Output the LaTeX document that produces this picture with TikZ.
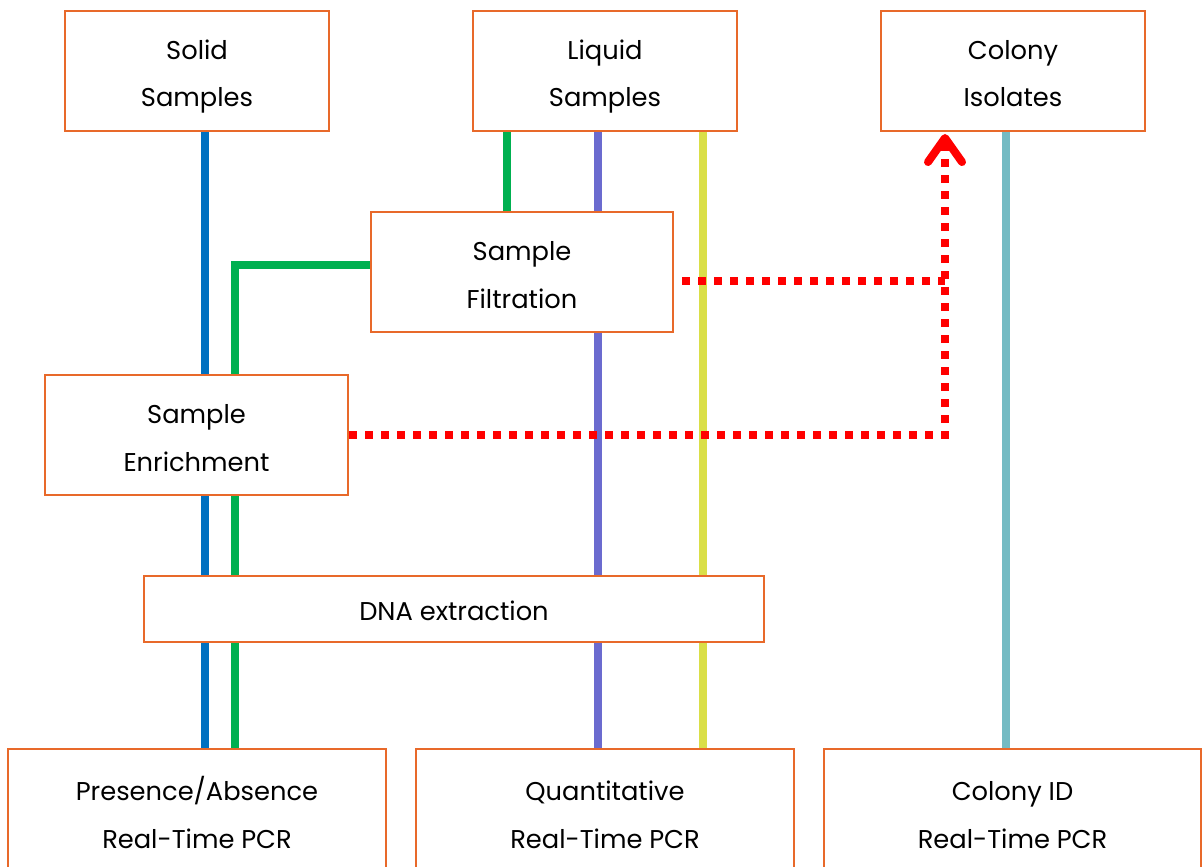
\documentclass[tikz,border=0pt]{standalone}
\usepackage{fontspec}
\setmainfont{Poppins}
\usepackage{xcolor}
\usetikzlibrary{calc,arrows.meta,backgrounds}

\definecolor{boxorange}{HTML}{E8692A}
\definecolor{lineblue}{HTML}{0070C0}
\definecolor{linegreen}{HTML}{00B050}
\definecolor{linepurple}{HTML}{6B6BCF}
\definecolor{lineyellow}{HTML}{DADF48}
\definecolor{lineteal}{HTML}{74BBC3}
\definecolor{linered}{HTML}{FF0000}

\tikzset{
  stagebox/.style={draw=boxorange, line width=1.4pt, fill=white, align=center,
    inner sep=0pt, font=\fontsize{18.3}{34.1}\selectfont,
    text height=61.2pt, text depth=10pt},
  topbox/.style={stagebox, minimum width=6.6cm, minimum height=3cm},
  pcrbox/.style={stagebox, minimum width=9.425cm, minimum height=3.15cm},
  flow/.style={line width=5pt},
  reddot/.style={draw=linered, line width=5.7pt, dash pattern=on 0.2cm off 0.2cm}
}

\begin{document}
\begin{tikzpicture}[x=0.025cm, y=-0.025cm]
            \useasboundingbox (0, 0) rectangle (1204, 867);
            \clip (0, 0) rectangle (1204, 867);

            % sources
            \node[topbox] (solid) at (197, 71) {Solid\\Samples};
            \node[topbox] (liquid) at (605, 71) {Liquid\\Samples};
            \node[topbox] (colony) at (1013, 71) {Colony\\Isolates};

            % processing steps
            \node[stagebox, minimum width=7.55cm, minimum height=3cm] (filtration) at (522, 272) {Sample\\Filtration};
            \node[stagebox, minimum width=7.575cm, minimum height=3cm] (enrichment) at (196.5, 435) {Sample\\Enrichment};
            \node[stagebox, minimum width=15.5cm, minimum height=1.65cm, text height=22pt, text depth=5pt] (dna) at (454, 609) {DNA extraction};

            % assays
            \node[pcrbox] (presence) at (197, 812) {Presence/Absence\\Real-Time PCR};
            \node[pcrbox] (quant) at (605, 812) {Quantitative\\Real-Time PCR};
            \node[pcrbox] (colonyid) at (1012.5, 812) {Colony ID\\Real-Time PCR};

            \begin{scope}[on background layer]
            \draw[flow, lineblue] ($(solid.south)+(8, 0)$) -- ($(presence.north)+(8, 0)$);
            \coordinate (g1) at ($(liquid.south)+(-98, 0)$);
            \draw[flow, linegreen] (g1) -- (g1 |- filtration.north);
            \draw[flow, linegreen] ($(filtration.west)+(0, -7)$) -| ($(presence.north)+(38, 0)$);
            \draw[flow, linepurple] ($(liquid.south)+(-7, 0)$) -- ($(quant.north)+(-7, 0)$);
            \draw[flow, lineyellow] ($(liquid.south)+(98, 0)$) -- ($(quant.north)+(98, 0)$);
            \draw[flow, lineteal] ($(colony.south)+(-7, 0)$) -- ($(colonyid.north)+(-6.5, 0)$);
            \end{scope}

            % isolation paths
            \coordinate (rc) at ($(colony.south)+(-68, 2)$);
            \draw[reddot] ($(filtration.east)+(8, 9)$) coordinate (f1) -- (f1 -| rc);
            \draw[reddot, -{Straight Barb[length=0.6cm, width=0.85cm, round, line width=5.7pt]}]
              (enrichment.east) -| (rc);
        \end{tikzpicture}
\end{document}
